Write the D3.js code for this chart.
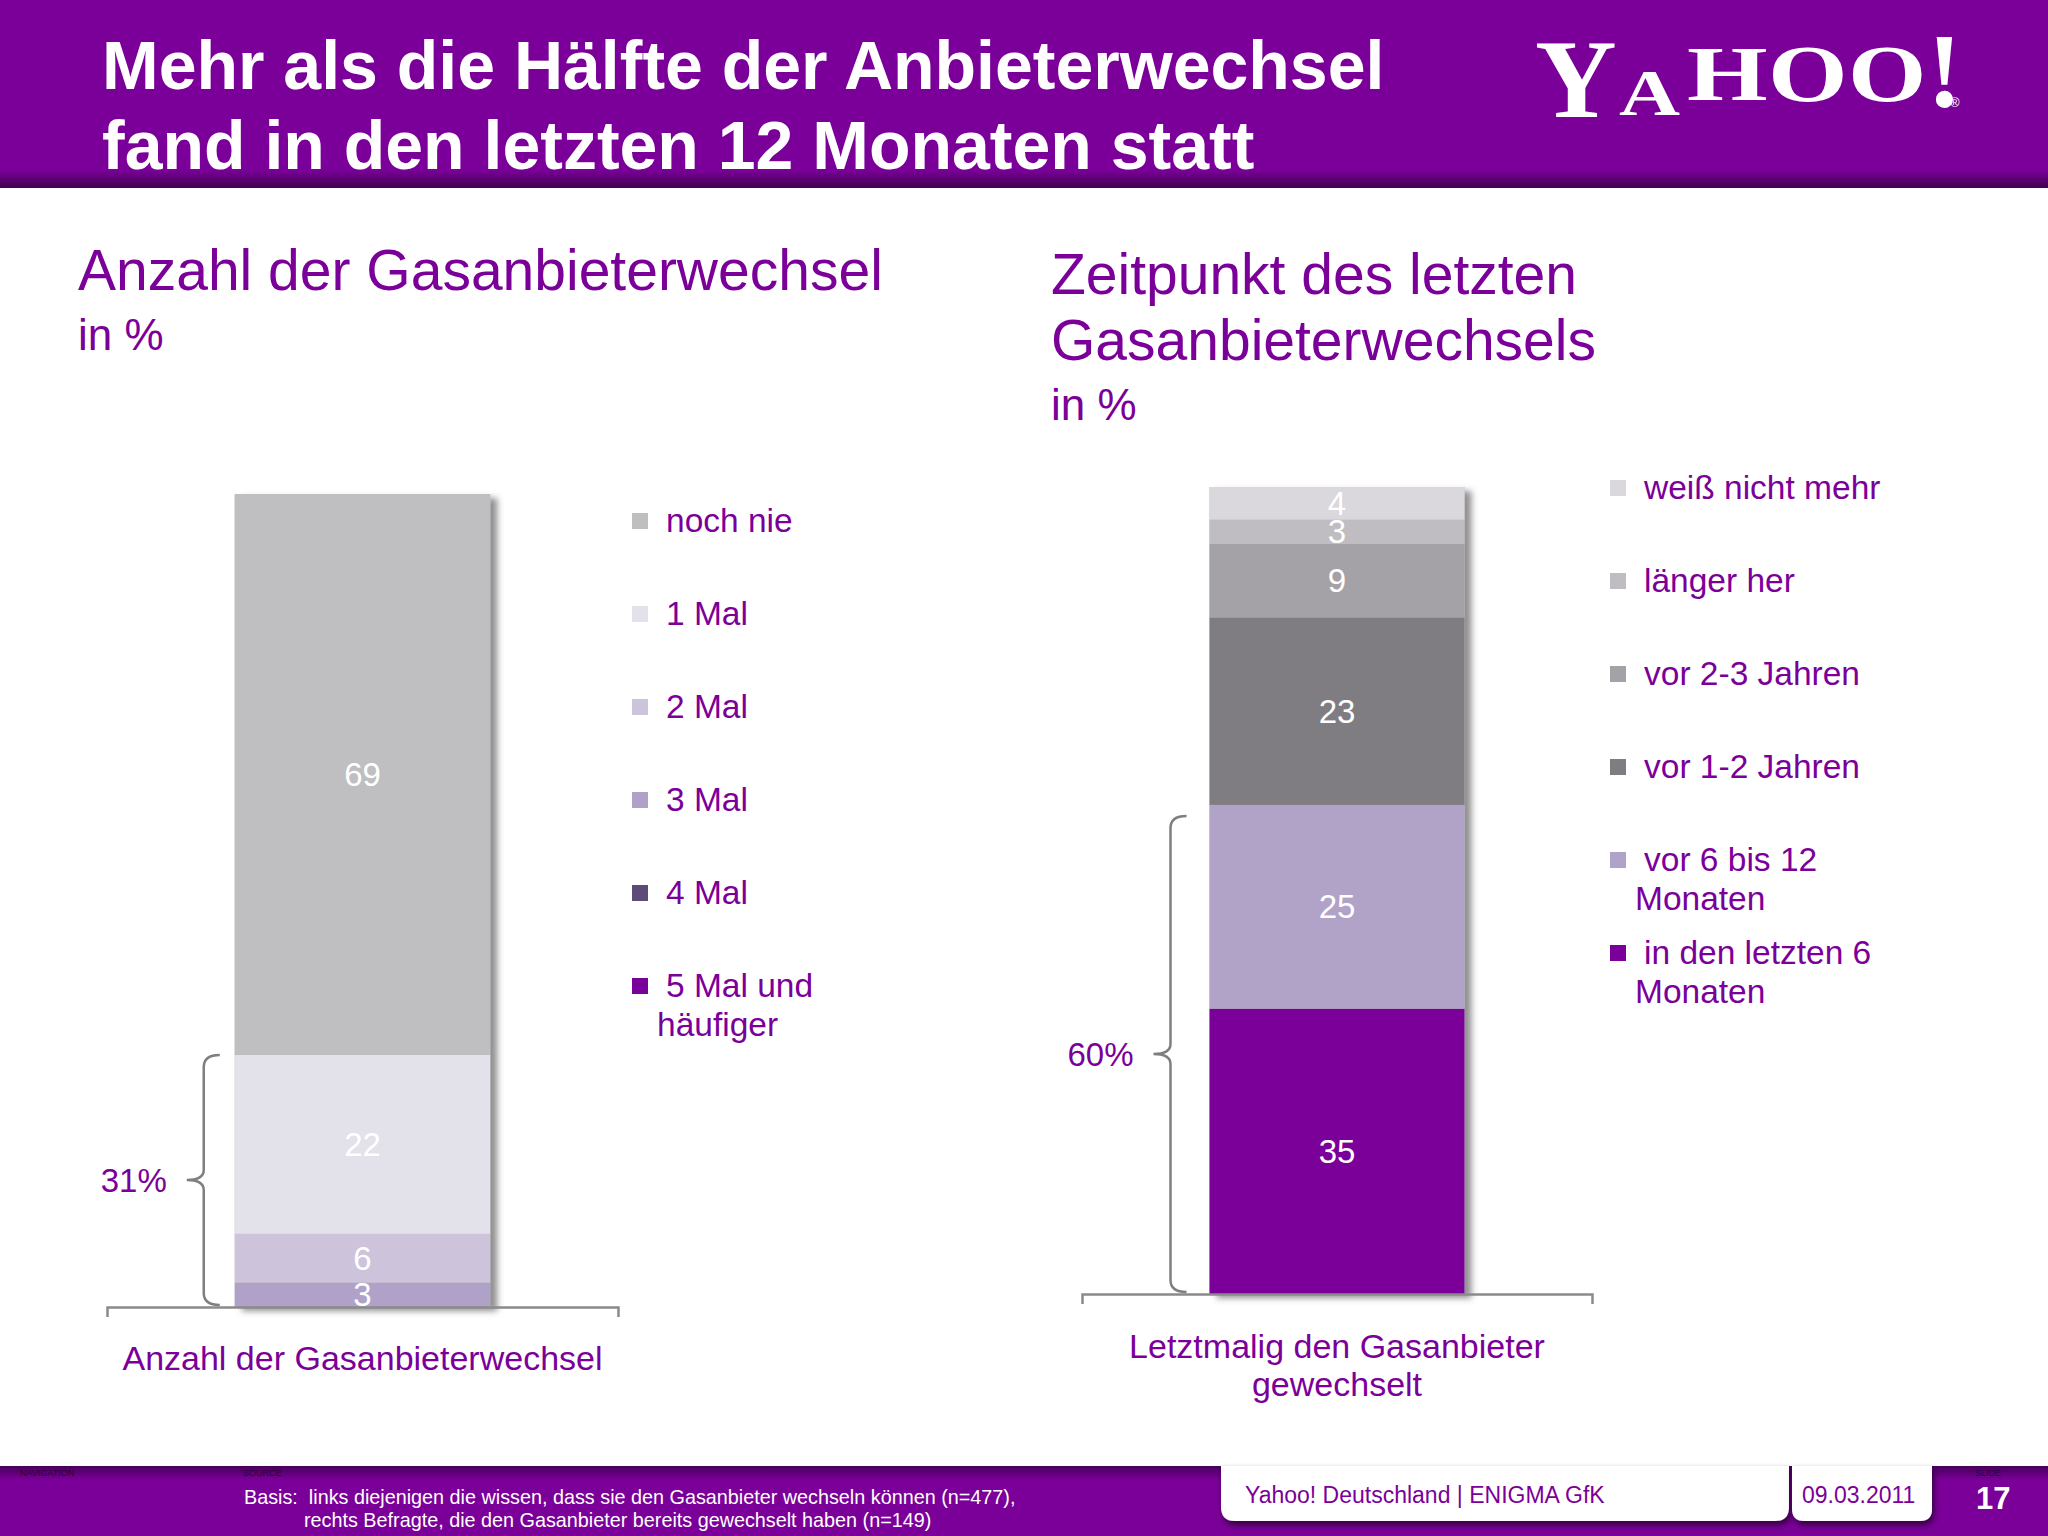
<!DOCTYPE html>
<html><head><meta charset="utf-8">
<script src="https://cdn.jsdelivr.net/npm/d3@7"></script>
<style>
body{margin:0;background:#fff;}
svg{display:block;font-family:"Liberation Sans",Arial,sans-serif;}
text{white-space:pre;}
</style>
</head><body>
<svg id="c" width="2048" height="1536"></svg>
<script>
// ---------- DATA ----------
const titleLines = ["Mehr als die Hälfte der Anbieterwechsel", "fand in den letzten 12 Monaten statt"];
const leftTitleLines = ["Anzahl der Gasanbieterwechsel"];
const rightTitleLines = ["Zeitpunkt des letzten", "Gasanbieterwechsels"];
const unitLabel = "in %";

const leftCategory = ["Anzahl der Gasanbieterwechsel"];
const leftSeries = ["noch nie", "1 Mal", "2 Mal", "3 Mal", "4 Mal", "5 Mal und häufiger"];
const leftValues = [69, 22, 6, 3, 0, 0];
const leftColors = ["#BFBEC1", "#E3E1EA", "#CDC3DA", "#AFA1C8", "#5E4A79", "#7B0099"];
const leftLegendLines = [["noch nie"], ["1 Mal"], ["2 Mal"], ["3 Mal"], ["4 Mal"], ["5 Mal und", "häufiger"]];
const leftBraceSeries = ["1 Mal", "2 Mal", "3 Mal", "4 Mal", "5 Mal und häufiger"];

const rightCategory = ["Letztmalig den Gasanbieter gewechselt"];
const rightCategoryLines = ["Letztmalig den Gasanbieter", "gewechselt"];
const rightSeries = ["weiß nicht mehr", "länger her", "vor 2-3 Jahren", "vor 1-2 Jahren", "vor 6 bis 12 Monaten", "in den letzten 6 Monaten"];
const rightValues = [4, 3, 9, 23, 25, 35];
const rightColors = ["#DAD8DC", "#BFBDC1", "#A4A2A6", "#807D82", "#B1A2C8", "#7B0099"];
const rightLegendLines = [["weiß nicht mehr"], ["länger her"], ["vor 2-3 Jahren"], ["vor 1-2 Jahren"], ["vor 6 bis 12", "Monaten"], ["in den letzten 6", "Monaten"]];
const rightBraceSeries = ["vor 6 bis 12 Monaten", "in den letzten 6 Monaten"];

const footerBasis = ["Basis:  links diejenigen die wissen, dass sie den Gasanbieter wechseln können (n=477),",
                     "rechts Befragte, die den Gasanbieter bereits gewechselt haben (n=149)"];
const footerCompany = "Yahoo! Deutschland | ENIGMA GfK";
const footerDate = "09.03.2011";
const footerSlide = "17";

// ---------- DRAW ----------
const PURPLE = "#7B0099";
const svg = d3.select("#c");
const defs = svg.append("defs");

const hg = defs.append("linearGradient").attr("id", "hdrShade").attr("x1", 0).attr("x2", 0).attr("y1", 0).attr("y2", 1);
hg.append("stop").attr("offset", "0%").attr("stop-color", PURPLE);
hg.append("stop").attr("offset", "100%").attr("stop-color", "#3f004f");
const fg = defs.append("linearGradient").attr("id", "ftrShade").attr("x1", 0).attr("x2", 0).attr("y1", 0).attr("y2", 1);
fg.append("stop").attr("offset", "0%").attr("stop-color", "#46005a");
fg.append("stop").attr("offset", "100%").attr("stop-color", PURPLE);

const sh = defs.append("filter").attr("id", "barShadow").attr("x", "-10%").attr("y", "-10%").attr("width", "130%").attr("height", "130%");
sh.append("feDropShadow").attr("dx", 7).attr("dy", 4).attr("stdDeviation", 3).attr("flood-color", "#555").attr("flood-opacity", 0.65);
const bsh = defs.append("filter").attr("id", "boxShadow").attr("x", "-10%").attr("y", "-20%").attr("width", "120%").attr("height", "160%");
bsh.append("feDropShadow").attr("dx", 2).attr("dy", 4).attr("stdDeviation", 3).attr("flood-color", "#200028").attr("flood-opacity", 0.8);

// header
svg.append("rect").attr("x", 0).attr("y", 0).attr("width", 2048).attr("height", 188).attr("fill", PURPLE);
svg.append("rect").attr("x", 0).attr("y", 170).attr("width", 2048).attr("height", 18).attr("fill", "url(#hdrShade)");
svg.append("g").selectAll("text").data(titleLines).join("text")
  .attr("x", 102).attr("y", (d, i) => 89 + i * 80)
  .attr("fill", "#fff").attr("font-weight", "bold").attr("font-size", 68)
  .text(d => d);

// Yahoo! logo (text)
const logo = svg.append("g").attr("fill", "#fff").attr("font-family", "'Liberation Serif','DejaVu Serif',serif").attr("font-weight", "bold");
const logoLetters = [
  {t: "Y", x: 1535, y: 117, s: 113, sx: 1.0},
  {t: "A", x: 1619, y: 115, s: 65, sx: 1.3},
  {t: "H", x: 1687, y: 100, s: 78, sx: 1.33},
  {t: "O", x: 1768, y: 101, s: 80, sx: 1.28},
  {t: "O", x: 1848, y: 101, s: 80, sx: 1.26}
];
logo.selectAll("text").data(logoLetters).join("text")
  .attr("transform", d => `translate(${d.x},${d.y}) scale(${d.sx},1)`)
  .attr("font-size", d => d.s).text(d => d.t);
const bang = logo.append("text").attr("x", 1927).attr("y", 107).attr("font-size", 105);
bang.append("tspan").attr("letter-spacing", -12).text("!");
bang.append("tspan").attr("font-size", 13).attr("font-family", "'Liberation Sans',sans-serif").attr("font-weight", "normal").text("®");

// section titles
function sectionTitle(lines, x, y0) {
  const g = svg.append("g").attr("fill", PURPLE);
  g.selectAll("text.t").data(lines).join("text").attr("class", "t")
    .attr("x", x).attr("y", (d, i) => y0 + i * 66).attr("font-size", 57).text(d => d);
  g.append("text").attr("x", x).attr("y", y0 + (lines.length - 1) * 66 + 60).attr("font-size", 44).text(unitLabel);
}
sectionTitle(leftTitleLines, 78, 290);
sectionTitle(rightTitleLines, 1051, 294);

function drawChart(o) {
  const total = d3.sum(o.values);
  const x = d3.scaleBand().domain(o.category).range(o.xRange).paddingInner(0.5).paddingOuter(0.25);
  const y = d3.scaleLinear().domain([0, total]).range(o.yRange);
  const row = {cat: o.category[0]};
  o.series.forEach((s, i) => row[s] = o.values[i]);
  const keys = o.series.slice().reverse(); // bottom-up stacking
  const stacked = d3.stack().keys(keys)([row]);
  const color = d3.scaleOrdinal().domain(o.series).range(o.colors);
  const bx = x(o.category[0]), bw = x.bandwidth();

  const g = svg.append("g");
  g.append("rect").attr("x", bx).attr("y", y(total)).attr("width", bw).attr("height", y(0) - y(total))
    .attr("fill", "#bbb").attr("filter", "url(#barShadow)");
  g.selectAll("rect.seg").data(stacked).join("rect").attr("class", "seg")
    .attr("x", bx).attr("width", bw)
    .attr("y", d => y(d[0][1])).attr("height", d => y(d[0][0]) - y(d[0][1]))
    .attr("fill", d => color(d.key));
  g.selectAll("text.val").data(stacked.filter(d => d[0][1] - d[0][0] > 0)).join("text").attr("class", "val")
    .attr("x", bx + bw / 2).attr("y", d => y((d[0][0] + d[0][1]) / 2)).attr("dy", "0.35em")
    .attr("text-anchor", "middle").attr("fill", "#fff").attr("font-size", 33)
    .text(d => d[0][1] - d[0][0]);

  // axis
  const axis = d3.axisBottom(x).tickSizeInner(0).tickSizeOuter(10).tickFormat("");
  const ag = svg.append("g").attr("transform", `translate(0,${o.yRange[0]})`).call(axis);
  ag.select(".domain").attr("stroke", "#8a8a8a").attr("stroke-width", 2.5);
  ag.selectAll(".tick").remove();
  svg.append("g").attr("fill", PURPLE).selectAll("text").data(o.catLines).join("text")
    .attr("x", bx + bw / 2).attr("y", (d, i) => o.catY + i * 38)
    .attr("text-anchor", "middle").attr("font-size", 34).text(d => d);

  // brace
  const braceSum = d3.sum(o.braceSeries, s => o.values[o.series.indexOf(s)]);
  const top = y(braceSum) + o.braceInset, bot = y(0) - 2, mid = (top + bot) / 2;
  const lx = bx - o.braceGap, hx = lx + 16, tx = lx - 17;
  const p = d3.path();
  p.moveTo(hx, top); p.quadraticCurveTo(lx, top, lx, top + 12);
  p.lineTo(lx, mid - 10); p.quadraticCurveTo(lx, mid, tx, mid);
  p.quadraticCurveTo(lx, mid, lx, mid + 10);
  p.lineTo(lx, bot - 12); p.quadraticCurveTo(lx, bot, hx, bot);
  svg.append("path").attr("d", p.toString()).attr("fill", "none").attr("stroke", "#7f7f7f").attr("stroke-width", 2.5);
  svg.append("text").attr("x", tx - 20).attr("y", mid).attr("dy", "0.35em").attr("text-anchor", "end")
    .attr("fill", PURPLE).attr("font-size", 33).text(braceSum + "%");

  // legend
  const lg = svg.append("g");
  const items = lg.selectAll("g").data(o.series).join("g")
    .attr("transform", (d, i) => `translate(${o.legX},${o.legY + i * 93})`);
  items.append("rect").attr("x", 0).attr("y", -8).attr("width", 16).attr("height", 16).attr("fill", d => color(d));
  items.each(function(d, i) {
    d3.select(this).selectAll("text").data(o.legendLines[i]).join("text")
      .attr("x", (t, j) => j === 0 ? 34 : 25).attr("y", (t, j) => 11 + j * 39)
      .attr("fill", PURPLE).attr("font-size", 33.5).text(t => t);
  });
}

drawChart({category: leftCategory, catLines: leftCategory, catY: 1370, series: leftSeries, values: leftValues, colors: leftColors,
  legendLines: leftLegendLines, braceSeries: leftBraceSeries, xRange: [107, 618], yRange: [1307, 494], braceGap: 31, braceInset: 0, legX: 632, legY: 521});
drawChart({category: rightCategory, catLines: rightCategoryLines, catY: 1358, series: rightSeries, values: rightValues, colors: rightColors,
  legendLines: rightLegendLines, braceSeries: rightBraceSeries, xRange: [1082, 1592], yRange: [1294, 487], braceGap: 39, braceInset: 11, legX: 1610, legY: 488});

// footer
svg.append("rect").attr("x", 0).attr("y", 1466).attr("width", 2048).attr("height", 70).attr("fill", PURPLE);
svg.append("rect").attr("x", 0).attr("y", 1466).attr("width", 2048).attr("height", 14).attr("fill", "url(#ftrShade)");
const tiny = svg.append("g").attr("fill", "#2c0038").attr("font-size", 9);
tiny.append("text").attr("x", 20).attr("y", 1476).text("NAVIGATION");
tiny.append("text").attr("x", 243).attr("y", 1476).text("SOURCE");
tiny.append("text").attr("x", 1975).attr("y", 1476).text("SLIDE");
function bottomRounded(x, y, w, h, r) {
  return `M${x},${y} H${x + w} V${y + h - r} Q${x + w},${y + h} ${x + w - r},${y + h} H${x + r} Q${x},${y + h} ${x},${y + h - r} Z`;
}
svg.append("path").attr("d", bottomRounded(1221, 1466, 568, 55, 14)).attr("fill", "#fff").attr("filter", "url(#boxShadow)");
svg.append("path").attr("d", bottomRounded(1792, 1466, 140, 55, 12)).attr("fill", "#fff").attr("filter", "url(#boxShadow)");
svg.append("g").attr("fill", "#fff").selectAll("text").data(footerBasis).join("text")
  .attr("x", (d, i) => i === 0 ? 244 : 304).attr("y", (d, i) => 1504 + i * 23)
  .attr("font-size", 19.8).text(d => d);
svg.append("text").attr("x", 1245).attr("y", 1503).attr("fill", PURPLE).attr("font-size", 23).text(footerCompany);
svg.append("text").attr("x", 1802).attr("y", 1503).attr("fill", PURPLE).attr("font-size", 23).text(footerDate);
svg.append("text").attr("x", 1976).attr("y", 1509).attr("fill", "#fff").attr("font-weight", "bold").attr("font-size", 31).text(footerSlide);
</script>
</body></html>
